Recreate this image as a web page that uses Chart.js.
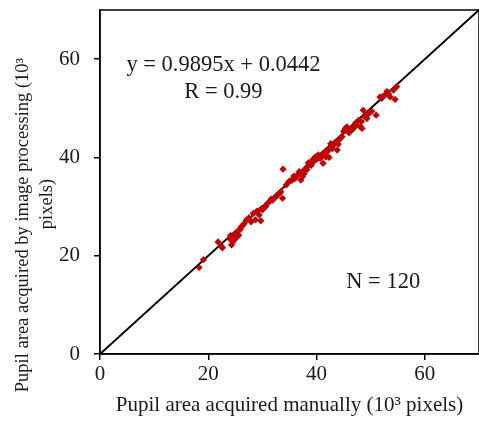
<!DOCTYPE html>
<html>
<head>
<meta charset="utf-8">
<script src="https://cdn.jsdelivr.net/npm/chart.js@4"></script>
<style>
  html, body { margin: 0; padding: 0; background: #fff; overflow: hidden; }
  /* Chart.js が右端に数 px 余白を残すので、キャンバスを少し広げて切り落とす */
  #wrap { width: 479px; height: 426px; overflow: hidden; }
</style>
</head>
<body>
<div id="wrap"><canvas id="chart" width="483" height="426"></canvas></div>
<script>
// 手動計測 (x) と画像処理 (y)、単位は 10^3 pixels
const manual = [
  18.3, 19.1, 21.8, 22.6, 22.4, 24.1, 24.3, 24.8, 25.1, 25.4,
  25.7, 26.1, 26.4, 24.5, 23.9, 27.5, 27.9, 28.3, 28.7, 29.4,
  29.7, 30.0, 30.6, 31.3, 31.9, 32.5, 33.1, 33.7, 33.8, 33.4,
  34.9, 35.5, 35.8, 36.5, 36.8, 37.1, 37.4, 37.7, 38.0, 38.3,
  38.6, 38.9, 39.5, 39.8, 40.3, 40.7, 41.2, 41.7, 42.0, 42.3,
  42.6, 42.9, 43.8, 44.0, 44.1, 44.7, 45.3, 45.6, 45.9, 46.5,
  46.8, 47.4, 47.8, 48.1, 48.4, 48.6, 49.0, 49.3, 49.6, 49.9,
  51.0, 51.7, 52.0, 52.7, 53.0, 53.6, 54.2, 54.5, 54.8, 24.6,
  25.0, 25.3, 25.9, 26.6, 24.2, 25.6, 27.0, 29.0, 29.8, 30.9,
  31.6, 32.8, 35.2, 36.0, 36.2, 37.0, 37.6, 38.2, 39.0, 39.3,
  40.0, 40.5, 41.0, 41.5, 42.4, 43.2, 43.5, 44.4, 45.0, 46.2,
  47.0, 47.2, 48.3, 48.8, 50.2, 52.3, 53.3, 34.4, 38.5, 46.0,
];
const processed = [
  17.6, 19.2, 22.8, 21.6, 22.0, 24.1, 22.2, 23.2, 24.5, 23.9,
  25.2, 25.9, 26.2, 22.8, 23.5, 27.7, 26.9, 28.6, 27.3, 28.3,
  27.1, 29.3, 30.0, 31.0, 31.3, 32.0, 32.7, 31.7, 37.6, 33.0,
  35.1, 35.4, 36.2, 36.4, 37.1, 35.4, 36.1, 36.7, 37.8, 38.1,
  38.8, 39.1, 39.8, 40.1, 40.5, 39.8, 38.8, 40.1, 41.2, 40.0,
  42.8, 41.8, 41.5, 42.7, 43.5, 44.2, 45.9, 46.2, 45.2, 45.6,
  45.9, 46.6, 47.6, 46.2, 45.9, 49.6, 48.3, 47.9, 48.9, 49.3,
  48.6, 52.3, 52.0, 52.7, 53.4, 52.3, 53.7, 51.8, 54.4, 23.8,
  24.0, 24.8, 25.4, 26.5, 23.4, 24.2, 27.2, 29.1, 29.6, 30.6,
  31.5, 32.4, 35.3, 35.7, 36.0, 36.8, 37.3, 37.5, 38.4, 39.0,
  39.6, 40.0, 40.6, 41.1, 41.9, 42.6, 43.1, 44.0, 45.3, 45.8,
  46.4, 47.0, 47.3, 48.4, 49.4, 52.5, 52.9, 34.4, 38.9, 45.0,
];

const TICK_VALUES = [0, 20, 40, 60];
const AXIS_MIN = 0;
const AXIS_MAX = 70;
// 参照線 (y = x、枠の右上角まで)
const refLine = [AXIS_MIN, AXIS_MAX];

const FONT = "'Liberation Serif', 'Times New Roman', serif";
const TEXT_COLOR = '#1a1a1a';

const points = manual.map((x, i) => ({ x, y: processed[i] }));
const linePoints = refLine.map((v) => ({ x: v, y: v }));

// 枠線、注記、y 軸タイトル
const framePlugin = {
  id: 'frame',
  afterDatasetsDraw(chart) {
    const { ctx, chartArea: a, scales } = chart;
    ctx.save();
    ctx.strokeStyle = '#000';
    ctx.lineWidth = 1.5;
    ctx.strokeRect(a.left, a.top, a.right - a.left, a.bottom - a.top);

    ctx.fillStyle = TEXT_COLOR;
    ctx.font = `22.5px ${FONT}`;
    ctx.textAlign = 'center';
    ctx.textBaseline = 'middle';
    const px = (v) => scales.x.getPixelForValue(v);
    const py = (v) => scales.y.getPixelForValue(v);
    ctx.fillText('y = 0.9895x + 0.0442', px(22.8), py(58.7));
    ctx.fillText('R = 0.99', px(22.8), py(53.3));
    ctx.fillText('N = 120', px(52.3), py(14.6));

    ctx.font = `18.5px ${FONT}`;
    ctx.translate(23, 225);
    ctx.rotate(-Math.PI / 2);
    ctx.fillText('Pupil area acquired by image processing (10³', 0, 0);
    ctx.fillText('pixels)', 21, 24);
    ctx.restore();
  },
};

const axisCommon = {
  type: 'linear',
  min: AXIS_MIN,
  max: AXIS_MAX,
  afterBuildTicks: (s) => { s.ticks = TICK_VALUES.map((value) => ({ value })); },
  grid: { drawOnChartArea: false, drawTicks: true, tickLength: 6, color: '#000', lineWidth: 1.5 },
  border: { display: true, color: '#000', width: 1.5 },
  ticks: {
    color: TEXT_COLOR,
    font: { family: FONT, size: 21 },
    padding: 2,
  },
};

new Chart(document.getElementById('chart').getContext('2d'), {
  type: 'scatter',
  data: {
    datasets: [
      {
        type: 'line',
        data: linePoints,
        borderColor: '#000',
        borderWidth: 2,
        pointRadius: 0,
        fill: false,
        order: 2,
      },
      {
        data: points,
        pointStyle: 'rectRot',
        pointRadius: 3.6,
        backgroundColor: '#c00000',
        borderColor: '#c00000',
        borderWidth: 0,
        order: 1,
      },
    ],
  },
  options: {
    responsive: false,
    animation: false,
    events: [],
    layout: { padding: { top: 10, right: 0, left: 0, bottom: 8 } },
    plugins: { legend: { display: false }, tooltip: { enabled: false } },
    scales: {
      x: {
        ...axisCommon,
        position: 'bottom',
        title: {
          display: true,
          text: 'Pupil area acquired manually (10³ pixels)',
          color: TEXT_COLOR,
          font: { family: FONT, size: 21 },
          padding: { top: 0, bottom: 0 },
        },
        afterFit: (s) => { s.height = 64; s.paddingLeft = 0; s.paddingRight = 0; },
      },
      y: {
        ...axisCommon,
        position: 'left',
        ticks: { ...axisCommon.ticks, padding: 14 },
        title: { display: false },
        afterFit: (s) => { s.width = 100; s.paddingTop = 0; s.paddingBottom = 0; },
      },
    },
  },
  plugins: [framePlugin],
});
</script>
</body>
</html>
